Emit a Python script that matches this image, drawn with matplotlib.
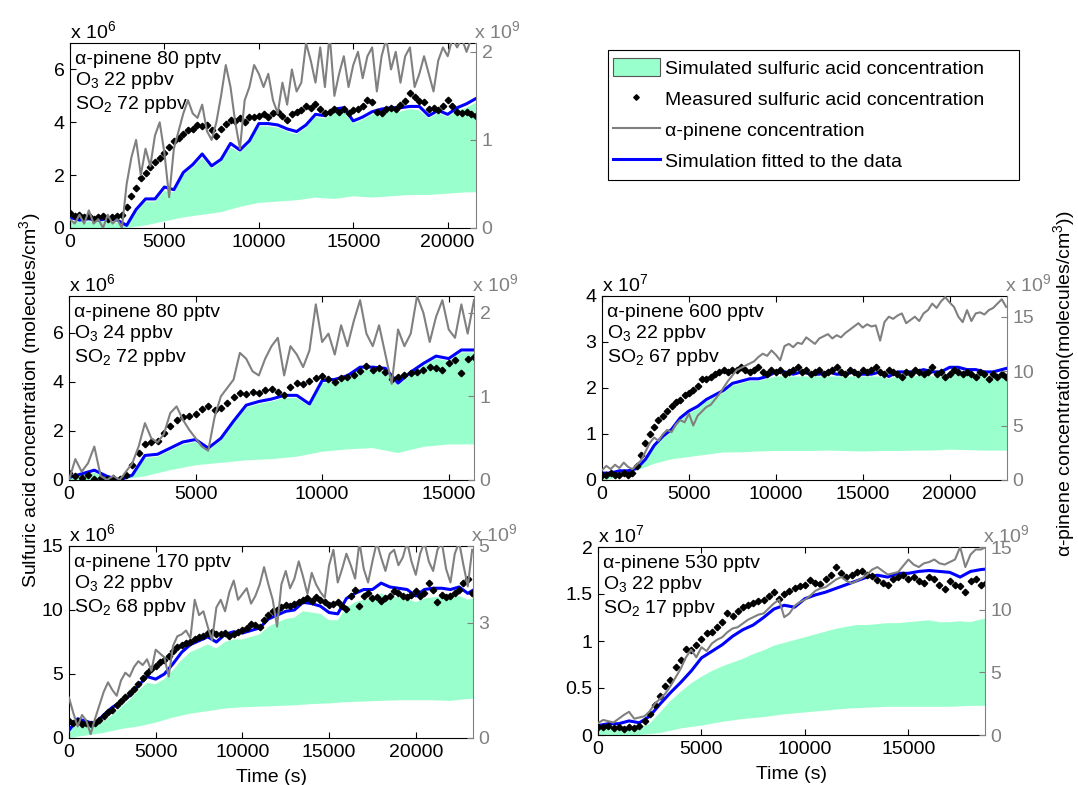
"""
Sulfuric acid / alpha-pinene comparison, five chamber runs (plotyy-style panels).
"""
import numpy as np
import matplotlib
matplotlib.use("Agg")
import matplotlib.pyplot as plt
from matplotlib.lines import Line2D
from matplotlib.patches import Patch, Rectangle

plt.rcParams["font.family"] = ["Liberation Sans", "DejaVu Sans"]
plt.rcParams["mathtext.fontset"] = "custom"
plt.rcParams["mathtext.rm"] = "Liberation Sans"
plt.rcParams["mathtext.it"] = "Liberation Sans:italic"
plt.rcParams["mathtext.bf"] = "Liberation Sans:bold"
plt.rcParams["font.size"] = 14

FILL_COLOR = "#99ffcc"
GRAY = "#808080"
BLUE = "#0000ff"

# sampling steps (s)
STEP_MEAS = 250     # measured H2SO4 and alpha-pinene
STEP_SIM = 500      # fitted simulation and upper edge of simulated band
STEP_LOW = 1000     # lower edge of simulated band

# ---- panel 1: a-pinene 80 pptv, O3 22 ppbv, SO2 72 ppbv (x 1e6 / x 1e9)
P1_MEAS = [0.55, 0.45, 0.5, 0.4, 0.45, 0.35, 0.4, 0.45, 0.35, 0.4, 0.45, 0.5, 0.8, 1.2, 1.5,
           1.9, 2.1, 2.3, 2.5, 2.65, 2.85, 3.05, 3.3, 3.4, 3.55, 3.7, 3.75, 3.9, 3.85, 3.9,
           3.7, 3.5, 3.75, 3.95, 4.1, 4.05, 4.15, 4.0, 4.2, 4.2, 4.25, 4.3, 4.2, 4.35, 4.4,
           4.25, 4.1, 4.3, 4.4, 4.45, 4.6, 4.55, 4.7, 4.5, 4.35, 4.4, 4.5, 4.4, 4.5, 4.35,
           4.45, 4.5, 4.6, 4.85, 4.75, 4.4, 4.35, 4.5, 4.55, 4.5, 4.65, 4.8, 5.1, 4.95, 4.8,
           4.75, 4.5, 4.55, 4.45, 4.6, 4.85, 4.6, 4.4, 4.35, 4.4, 4.3, 4.25]
P1_PINENE = [0.1, 0.05, 0.15, 0.05, 0.2, 0.05, 0.1, 0.0, 0.15, 0.05, 0.1, 0.0, 0.5, 0.8, 1.0,
             0.6, 0.9, 0.7, 1.05, 1.2, 0.85, 0.35, 0.9, 1.1, 1.3, 1.45, 1.3, 1.25, 1.4, 1.1,
             1.0, 1.2, 1.5, 1.85, 1.6, 1.2, 0.9, 1.45, 1.6, 1.85, 1.75, 1.6, 1.75, 1.45, 1.3,
             1.65, 1.4, 1.8, 1.55, 1.65, 2.1, 1.9, 1.65, 2.05, 1.6, 2.2, 1.5, 1.75, 1.95, 1.6,
             1.85, 2.0, 1.7, 1.95, 2.05, 1.55, 1.95, 2.15, 1.8, 2.0, 1.65, 1.95, 2.05, 1.6, 1.75,
             1.95, 1.75, 1.55, 1.9, 2.05, 1.95, 2.15, 2.05, 2.15, 2.0, 2.15, 2.1]
P1_FIT = [0.4, 0.3, 0.35, 0.3, 0.35, 0.3, 0.1, 0.7, 1.1, 1.1, 1.55, 1.45, 2.1, 2.4, 2.8, 2.35,
          2.6, 3.2, 2.95, 3.3, 3.95, 3.95, 3.9, 3.75, 3.65, 3.9, 4.3, 4.25, 4.5, 4.55, 4.05,
          4.2, 4.4, 4.5, 4.55, 4.55, 4.6, 4.6, 4.25, 4.45, 4.3, 4.55, 4.7, 4.9]
P1_BAND_HI = [0.25, 0.25, 0.25, 0.25, 0.25, 0.2, 0.1, 0.6, 1.0, 1.0, 1.4, 1.35, 2.0, 2.3, 2.65,
              2.25, 2.5, 3.05, 2.85, 3.2, 3.85, 3.85, 3.8, 3.65, 3.55, 3.8, 4.2, 4.15, 4.4, 4.4,
              3.95, 4.1, 4.3, 4.4, 4.45, 4.4, 4.5, 4.45, 4.15, 4.35, 4.2, 4.45, 4.55, 4.75]
P1_BAND_LO = [0, 0, 0, 0, 0.1, 0.25, 0.4, 0.5, 0.6, 0.8, 0.95, 1.0, 1.05, 1.15, 1.1, 1.2, 1.15,
              1.2, 1.25, 1.25, 1.3, 1.35, 1.35]

# ---- panel 2: a-pinene 80 pptv, O3 24 ppbv, SO2 72 ppbv
P2_MEAS = [0.3, 0.15, 0.1, 0.2, 0.05, 0.1, 0.05, 0.1, 0.05, 0.2, 0.6, 1.1, 1.45, 1.55, 1.6, 1.9,
           2.2, 2.45, 2.55, 2.6, 2.7, 2.9, 3.0, 2.85, 2.95, 3.15, 3.4, 3.55, 3.5, 3.6, 3.55,
           3.65, 3.7, 3.6, 3.45, 3.8, 3.95, 3.9, 4.05, 4.15, 4.25, 4.1, 4.0, 4.15, 4.2, 4.3,
           4.45, 4.65, 4.5, 4.55, 4.4, 4.1, 4.2, 4.3, 4.35, 4.4, 4.5, 4.6, 4.55, 4.5, 4.75,
           4.9, 4.35, 4.95, 5.0]
P2_PINENE = [0.0, 0.25, 0.1, 0.2, 0.4, 0.05, 0.0, 0.05, 0.0, 0.1, 0.2, 0.4, 0.68, 0.5, 0.45,
             0.55, 0.8, 0.88, 0.72, 0.6, 0.5, 0.4, 0.35, 0.75, 1.0, 1.1, 1.2, 1.52, 1.45, 1.3,
             1.25, 1.45, 1.6, 1.7, 1.25, 1.6, 1.5, 1.35, 1.55, 2.1, 1.65, 1.75, 1.5, 1.85, 1.6,
             1.9, 2.15, 1.75, 1.6, 1.85, 1.5, 1.15, 1.8, 1.6, 1.75, 2.2, 2.0, 1.65, 1.95, 2.15,
             1.8, 1.7, 2.1, 1.75, 2.15]
P2_FIT = [0.1, 0.25, 0.4, 0.15, 0.0, 0.2, 1.0, 1.05, 1.3, 1.55, 1.65, 1.3, 1.7, 2.4, 3.05, 3.2,
          3.3, 3.45, 3.45, 3.1, 4.05, 4.1, 4.25, 4.6, 4.6, 4.55, 3.95, 4.4, 4.75, 5.05, 4.95,
          5.3, 5.3]
P2_BAND_HI = [0.1, 0.2, 0.3, 0.1, 0.0, 0.15, 0.9, 0.95, 1.2, 1.45, 1.55, 1.2, 1.6, 2.3, 2.95,
              3.1, 3.2, 3.35, 3.35, 3.0, 3.95, 4.0, 4.15, 4.5, 4.5, 4.45, 3.85, 4.3, 4.65, 4.95,
              4.85, 5.2, 5.2]
P2_BAND_LO = [0, 0, 0, 0.15, 0.4, 0.6, 0.7, 0.8, 0.85, 0.95, 1.15, 1.25, 1.3, 1.1, 1.35, 1.45,
              1.45]

# ---- panel 3: a-pinene 600 pptv, O3 22 ppbv, SO2 67 ppbv (x 1e7 / x 1e9)
P3_MEAS = [0.1, 0.1, 0.15, 0.1, 0.1, 0.15, 0.1, 0.15, 0.3, 0.55, 0.8, 1.0, 1.15, 1.3, 1.4, 1.5,
           1.6, 1.7, 1.75, 1.85, 1.9, 1.95, 2.05, 2.2, 2.2, 2.25, 2.3, 2.35, 2.4, 2.35, 2.4,
           2.4, 2.45, 2.4, 2.35, 2.4, 2.45, 2.35, 2.3, 2.4, 2.35, 2.4, 2.3, 2.35, 2.4, 2.45,
           2.35, 2.4, 2.3, 2.35, 2.4, 2.3, 2.35, 2.4, 2.45, 2.35, 2.3, 2.4, 2.35, 2.3, 2.4,
           2.35, 2.4, 2.45, 2.35, 2.3, 2.4, 2.35, 2.3, 2.25, 2.35, 2.3, 2.4, 2.35, 2.3, 2.35,
           2.45, 2.3, 2.35, 2.25, 2.3, 2.4, 2.35, 2.3, 2.35, 2.3, 2.25, 2.35, 2.3, 2.2, 2.3,
           2.25, 2.3, 2.25]
P3_PINENE = [0.9, 1.3, 1.0, 1.4, 1.1, 1.6, 1.2, 1.0, 1.4, 1.8, 2.6, 3.4, 3.9, 3.6, 4.2, 4.6,
             4.4, 5.1, 5.5, 5.3, 6.1, 5.0, 5.9, 6.3, 6.7, 6.9, 7.4, 7.9, 8.5, 9.1, 9.6, 10.1,
             10.3, 10.5, 10.7, 10.9, 11.3, 11.6, 11.4, 11.9, 11.5, 11.0, 12.3, 12.5, 12.2, 12.6,
             12.5, 13.1, 12.8, 12.5, 13.0, 13.2, 13.4, 13.0, 13.3, 13.1, 13.5, 13.8, 14.1, 14.4,
             14.0, 14.3, 14.1, 14.2, 12.8, 14.5, 15.0, 14.8, 15.1, 15.3, 14.4, 14.7, 15.0, 14.6,
             15.3, 15.6, 16.2, 15.8, 16.4, 16.8, 16.3, 15.9, 15.0, 14.5, 15.6, 14.6, 15.3, 15.4,
             15.2, 15.6, 15.8, 16.2, 16.6, 15.9]
P3_FIT = [0.15, 0.15, 0.2, 0.2, 0.25, 0.45, 0.75, 0.95, 1.1, 1.35, 1.5, 1.6, 1.75, 1.85, 1.95,
          2.1, 2.15, 2.2, 2.2, 2.25, 2.35, 2.35, 2.3, 2.35, 2.3, 2.3, 2.35, 2.3, 2.3, 2.35, 2.3,
          2.3, 2.35, 2.25, 2.35, 2.35, 2.35, 2.4, 2.35, 2.35, 2.45, 2.45, 2.4, 2.4, 2.35, 2.35,
          2.4, 2.45]
P3_BAND_HI = [0.12, 0.12, 0.15, 0.15, 0.2, 0.4, 0.7, 0.9, 1.05, 1.3, 1.45, 1.55, 1.7, 1.8, 1.9,
              2.05, 2.1, 2.15, 2.15, 2.2, 2.25, 2.25, 2.25, 2.25, 2.25, 2.25, 2.25, 2.25, 2.25,
              2.25, 2.25, 2.25, 2.25, 2.2, 2.25, 2.25, 2.25, 2.3, 2.25, 2.25, 2.3, 2.3, 2.3, 2.3,
              2.25, 2.25, 2.3, 2.3]
P3_BAND_LO = [0.0, 0.05, 0.2, 0.35, 0.45, 0.5, 0.55, 0.6, 0.6, 0.62, 0.63, 0.63, 0.63, 0.64,
              0.63, 0.62, 0.63, 0.63, 0.64, 0.64, 0.66, 0.65, 0.64, 0.64, 0.64]

# ---- panel 4: a-pinene 170 pptv, O3 22 ppbv, SO2 68 ppbv (x 1e6 / x 1e9)
P4_MEAS = [1.3, 1.2, 1.3, 1.1, 1.2, 1.1, 1.2, 1.4, 1.7, 2.0, 2.2, 2.6, 2.9, 3.2, 3.5, 3.8, 4.2,
           4.7, 5.1, 5.4, 5.6, 5.9, 6.1, 6.4, 6.8, 7.1, 7.3, 7.4, 7.5, 7.7, 7.9, 8.0, 8.2, 8.3,
           8.1, 8.1, 8.2, 8.0, 8.1, 8.3, 8.4, 8.6, 8.9, 8.8, 8.7, 9.2, 9.6, 9.9, 10.0, 10.2,
           10.4, 10.3, 10.5, 10.6, 10.8, 10.9, 10.7, 11.0, 10.8, 10.6, 10.4, 10.5, 10.6, 10.3,
           10.1, 11.1, 11.6, 10.3, 11.1, 11.3, 10.9, 11.0, 10.7, 10.9, 11.1, 11.5, 11.3, 11.1,
           11.0, 11.2, 11.5, 11.1, 11.3, 12.1, 11.6, 10.6, 11.2, 11.0, 11.1, 11.3, 11.6, 12.1,
           12.4, 11.3]
P4_PINENE = [1.05, 0.65, 0.3, 0.6, 0.45, 0.1, 0.5, 0.85, 1.2, 1.45, 1.25, 1.1, 1.5, 1.7, 1.6,
             1.85, 2.0, 1.9, 2.05, 1.75, 2.3, 2.2, 2.1, 1.6, 2.4, 2.65, 2.7, 2.8, 2.6, 3.6, 3.2,
             3.3, 2.9, 2.55, 3.4, 3.6, 3.3, 3.8, 4.1, 3.6, 3.75, 3.9, 3.5, 3.7, 4.0, 4.45, 4.0,
             3.6, 2.9, 4.0, 4.35, 3.9, 4.15, 4.6, 4.2, 3.75, 4.3, 4.0, 3.8, 3.65, 4.5, 4.9, 4.05,
             4.4, 4.8, 4.5, 4.15, 5.1, 4.4, 4.05, 4.6, 5.1, 4.7, 4.35, 4.8, 4.9, 4.5, 4.7, 5.1,
             4.6, 4.25, 4.8, 5.1, 4.6, 4.35, 4.9, 5.1, 4.4, 4.05, 4.8, 5.1, 4.5, 3.95, 4.9]
P4_FIT = [0.6, 1.5, 1.3, 1.1, 1.8, 2.4, 2.8, 3.3, 4.1, 4.8, 4.6, 5.0, 5.8, 6.7, 7.3, 7.6, 7.9,
          7.5, 8.1, 8.3, 8.2, 8.4, 8.6, 9.3, 9.6, 9.9, 10.0, 10.6, 10.5, 10.3, 9.8, 9.7, 10.9,
          11.3, 11.6, 11.6, 12.1, 11.8, 11.7, 11.6, 11.1, 11.6, 11.7, 11.7, 11.6, 11.8, 11.3,
          11.7]
P4_BAND_HI = [0.9, 0.9, 0.9, 0.9, 1.3, 1.8, 2.4, 3.0, 3.7, 4.3, 4.2, 4.6, 5.3, 6.1, 6.7, 7.0,
              7.3, 7.0, 7.5, 7.7, 7.7, 7.9, 8.1, 8.7, 9.0, 9.3, 9.4, 9.9, 9.8, 9.7, 9.2, 9.2,
              10.2, 10.6, 10.8, 10.9, 11.3, 11.0, 11.0, 10.9, 10.6, 10.9, 11.0, 11.0, 10.9, 11.1,
              10.8, 11.0]
P4_BAND_LO = [0, 0.2, 0.4, 0.7, 0.9, 1.2, 1.6, 1.9, 2.1, 2.3, 2.4, 2.45, 2.5, 2.55, 2.65, 2.7,
              2.8, 2.85, 2.9, 2.95, 2.95, 2.95, 2.9, 3.05, 3.1]

# ---- panel 5: a-pinene 530 pptv, O3 22 ppbv, SO2 17 ppbv (x 1e7 / x 1e9)
P5_MEAS = [0.08, 0.08, 0.1, 0.07, 0.08, 0.06, 0.09, 0.07, 0.1, 0.15, 0.22, 0.32, 0.42, 0.52,
           0.58, 0.72, 0.8, 0.92, 0.9, 0.96, 1.02, 1.08, 1.1, 1.15, 1.2, 1.3, 1.27, 1.32, 1.36,
           1.38, 1.4, 1.43, 1.44, 1.48, 1.52, 1.45, 1.5, 1.53, 1.56, 1.58, 1.6, 1.65, 1.62, 1.61,
           1.66, 1.7, 1.79, 1.72, 1.68, 1.7, 1.73, 1.74, 1.7, 1.69, 1.65, 1.62, 1.6, 1.66, 1.68,
           1.7, 1.66, 1.68, 1.64, 1.62, 1.68, 1.66, 1.6, 1.55, 1.64, 1.6, 1.58, 1.52, 1.64, 1.66,
           1.6, 1.62]
P5_PINENE = [0.95, 1.2, 1.1, 1.0, 1.3, 1.6, 1.85, 1.3, 1.4, 1.5, 1.9, 2.5, 2.9, 3.3, 3.9, 4.6,
             5.3, 6.2, 6.8, 6.2, 7.0, 6.7, 7.3, 7.6, 7.8, 8.2, 8.5, 8.6, 8.9, 9.2, 9.4, 9.6, 9.7,
             10.1, 10.5, 10.8, 9.4, 9.7, 10.3, 10.6, 10.8, 11.1, 11.5, 11.7, 11.8, 12.1, 12.4,
             12.6, 12.3, 12.1, 12.3, 12.5, 12.8, 13.2, 13.4, 13.1, 12.8, 12.9, 13.0, 13.5, 14.0,
             13.6, 13.4, 13.7, 13.8, 14.0, 13.7, 13.6, 13.8, 14.0, 15.0, 13.4, 14.4, 14.8, 14.8,
             15.0]
P5_FIT = [0.1, 0.12, 0.12, 0.15, 0.13, 0.2, 0.33, 0.45, 0.56, 0.68, 0.82, 0.89, 0.96, 1.05,
          1.12, 1.17, 1.25, 1.34, 1.38, 1.36, 1.45, 1.49, 1.52, 1.56, 1.6, 1.64, 1.68, 1.7,
          1.68, 1.72, 1.72, 1.74, 1.75, 1.74, 1.73, 1.68, 1.74, 1.76, 1.77]
P5_BAND_HI = [0.08, 0.08, 0.08, 0.08, 0.08, 0.12, 0.24, 0.36, 0.46, 0.55, 0.62, 0.68, 0.73,
              0.77, 0.81, 0.86, 0.9, 0.95, 0.98, 1.01, 1.04, 1.07, 1.1, 1.13, 1.15, 1.17, 1.17,
              1.18, 1.19, 1.19, 1.2, 1.21, 1.22, 1.2, 1.2, 1.21, 1.2, 1.23, 1.24]
P5_BAND_LO = [0, 0, 0, 0.02, 0.07, 0.1, 0.14, 0.17, 0.19, 0.22, 0.24, 0.26, 0.28, 0.29, 0.3,
              0.3, 0.3, 0.3, 0.31, 0.31]

CONDITIONS = [
    ("80", "22", "72"),
    ("80", "24", "72"),
    ("600", "22", "67"),
    ("170", "22", "68"),
    ("530", "22", "17"),
]


def draw_panel(fig, rect, meas, pinene, fit, band_hi, band_lo, cond,
               xmax, xticks, ylim_left, yticks_left, ylim_right, yticks_right,
               exp_left, show_xlabel=False):
    ax = fig.add_axes(rect)
    t_meas = np.arange(len(meas)) * STEP_MEAS
    t_pin = np.arange(len(pinene)) * STEP_MEAS
    t_sim = np.arange(len(fit)) * STEP_SIM
    t_hi = np.arange(len(band_hi)) * STEP_SIM
    t_lo = np.arange(len(band_lo)) * STEP_LOW

    # simulated band: upper edge forward, lower edge back
    ax.fill(np.concatenate([t_hi, t_lo[::-1]]),
            np.concatenate([band_hi, np.asarray(band_lo)[::-1]]),
            color=FILL_COLOR, lw=0, zorder=1)
    ax.plot(t_sim, fit, color=BLUE, lw=2.2, zorder=3)
    ax.plot(t_meas, meas, ls="none", marker="D", ms=3.3, color="k", zorder=4)

    ax.set_xlim(0, xmax)
    ax.set_ylim(*ylim_left)
    ax.set_xticks(xticks)
    ax.set_yticks(yticks_left)
    ax.set_yticklabels(["%g" % v for v in yticks_left])
    ax.tick_params(direction="in", length=4, width=0.8, top=True, right=True,
                   labelsize=14, pad=4)
    ax.spines["right"].set_visible(False)
    for s in ("left", "top", "bottom"):
        ax.spines[s].set_linewidth(0.8)

    ax2 = ax.twinx()
    ax2.plot(t_pin, pinene, color=GRAY, lw=1.5, zorder=2)
    ax2.set_ylim(*ylim_right)
    ax2.set_yticks(yticks_right)
    ax2.set_yticklabels(["%g" % v for v in yticks_right])
    ax2.tick_params(direction="in", length=4, width=0.8, colors=GRAY,
                    labelsize=14, pad=4)
    for s in ("left", "top", "bottom"):
        ax2.spines[s].set_visible(False)
    ax2.spines["right"].set_color(GRAY)
    ax2.spines["right"].set_linewidth(0.8)

    ax.annotate(r"x 10$^{%d}$" % exp_left, xy=(0, 1), xycoords="axes fraction",
                xytext=(0, 5), textcoords="offset pixels", va="baseline", ha="left")
    ax.annotate(r"x 10$^{9}$", xy=(1, 1), xycoords="axes fraction",
                xytext=(-2, 5), textcoords="offset pixels", va="baseline", ha="left",
                color=GRAY)

    apin, o3, so2 = cond
    lines = ["\u03b1-pinene %s pptv" % apin, r"O$_3$ %s ppbv" % o3, r"SO$_2$ %s ppbv" % so2]
    for txt, dy in zip(lines, (-21, -42, -66)):
        ax.annotate(txt, xy=(0, 1), xycoords="axes fraction", xytext=(5, dy),
                    textcoords="offset pixels", va="baseline", ha="left", zorder=6)

    if show_xlabel:
        ax.set_xlabel("Time (s)", fontsize=14, labelpad=6)
    return ax


fig = plt.figure(figsize=(10.78, 7.85), dpi=100)
W, H = 1078.0, 785.0


def rect(x0, y0, x1, y1):
    return [x0 / W, 1 - y1 / H, (x1 - x0) / W, (y1 - y0) / H]


draw_panel(fig, rect(70, 43, 476, 228), P1_MEAS, P1_PINENE, P1_FIT, P1_BAND_HI, P1_BAND_LO,
           CONDITIONS[0], 21500, [0, 5000, 10000, 15000, 20000], (0, 7), [0, 2, 4, 6],
           (0, 2.1), [0, 1, 2], 6)
draw_panel(fig, rect(69, 296, 474, 480), P2_MEAS, P2_PINENE, P2_FIT, P2_BAND_HI, P2_BAND_LO,
           CONDITIONS[1], 16000, [0, 5000, 10000, 15000], (0, 7.5), [0, 2, 4, 6],
           (0, 2.2), [0, 1, 2], 6)
draw_panel(fig, rect(602, 296, 1007, 480), P3_MEAS, P3_PINENE, P3_FIT, P3_BAND_HI, P3_BAND_LO,
           CONDITIONS[2], 23300, [0, 5000, 10000, 15000, 20000], (0, 4), [0, 1, 2, 3, 4],
           (0, 16.9), [0, 5, 10, 15], 7)
draw_panel(fig, rect(69, 546, 473, 738), P4_MEAS, P4_PINENE, P4_FIT, P4_BAND_HI, P4_BAND_LO,
           CONDITIONS[3], 23300, [0, 5000, 10000, 15000, 20000], (0, 15), [0, 5, 10, 15],
           (0, 5), [0, 3, 5], 6, show_xlabel=True)
draw_panel(fig, rect(598, 547, 985, 735), P5_MEAS, P5_PINENE, P5_FIT, P5_BAND_HI, P5_BAND_LO,
           CONDITIONS[4], 18700, [0, 5000, 10000, 15000], (0, 2), [0, 0.5, 1, 1.5, 2],
           (0, 15), [0, 5, 10, 15], 7, show_xlabel=True)

fig.text(30 / W, 1 - 400 / H, "Sulfuric acid concentration (molecules/cm$^3$)",
         rotation=90, ha="center", va="center", fontsize=14)
fig.text(1064 / W, 1 - 384 / H, "\u03b1-pinene concentration(molecules/cm$^3$))",
         rotation=90, ha="center", va="center", fontsize=14)

# legend: entries without frame, frame drawn as a plain box
handles = [
    Patch(facecolor=FILL_COLOR, edgecolor="#555555", linewidth=0.8),
    Line2D([], [], ls="none", marker="D", ms=2.8, color="k"),
    Line2D([], [], color=GRAY, lw=1.5),
    Line2D([], [], color=BLUE, lw=2.2),
]
labels = [
    "Simulated sulfuric acid concentration",
    "Measured sulfuric acid concentration",
    "\u03b1-pinene concentration",
    "Simulation fitted to the data",
]
fig.legend(handles, labels, loc="upper left", bbox_to_anchor=(613 / W, 1 - 58 / H),
           frameon=False, borderaxespad=0, borderpad=0, handlelength=2.4,
           handleheight=1.08, handletextpad=0.25, labelspacing=0.58, fontsize=14)
fig.patches.append(Rectangle((608 / W, 1 - 180 / H), 411 / W, 130 / H,
                             transform=fig.transFigure, fill=False, edgecolor="k",
                             linewidth=0.8))

fig.savefig("out.png", dpi=100)
